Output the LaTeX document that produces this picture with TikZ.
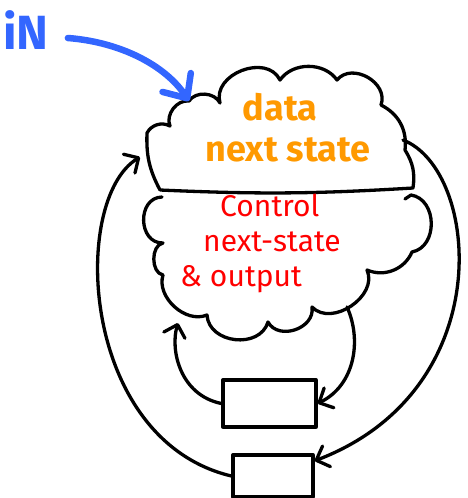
\documentclass[tikz,border=0pt]{standalone}
\usepackage{fontspec}
\setmainfont{Fira Sans}
\usepackage{tikz}
\usetikzlibrary{arrows.meta}
\definecolor{inblue}{HTML}{3366FF}
\definecolor{dataorange}{HTML}{FF9900}
\definecolor{ctlred}{HTML}{FF0000}
\tikzset{
  sketch/.style={black,line width=3.3pt,line cap=round,line join=round},
  puff/.style={bend left=#1},
  puff/.default=60,
  backarc/.style={sketch,-{Straight Barb[length=11pt,width=22pt,round]}},
  reg/.style={sketch,draw,rectangle,inner sep=0pt},
  inarrow/.style={inblue,line width=6.5pt,line cap=round,-{Straight Barb[length=19pt,width=34pt,round]}}
}

\begin{document}
\begin{tikzpicture}[x=1pt,y=-1pt]
\useasboundingbox (0,0) rectangle (467,498);
% data next-state cloud
\draw[sketch] (160,190) to[puff=15] (147,133) to[puff=45] (170,126)
   to[puff=60] (189,101) to[puff=60] (220,103) to[puff=85,looseness=1.2] (280,80)
   to[puff=55] (337,80) to[puff=80,looseness=1.2] (381,105) to[puff=35] (405,150)
   to[puff=20] (413,188) to[bend left=3] (160,190);
% control cloud (shares the line above)
\draw[sketch] (405,199) -- (411,195) to[puff=80,looseness=1.2] (412,252)
   to[puff=45] (367,270) to[puff=80,looseness=1.1] (312,307)
   to[puff=80,looseness=1.2] (268,322) to[puff=80,looseness=1.2] (207,315)
   to[puff=65] (163,275) to[puff=80] (163,243) to[puff=90,looseness=1.4] (162,197);
\coordinate (dataIn) at (189,101);
\coordinate (dataOut) at (403,140);
\coordinate (dataFb) at (140,157);
\coordinate (ctlOut) at (347,307);
\coordinate (ctlIn) at (178,323);

\node [text=dataorange,font=\bfseries\fontsize{36}{41}\selectfont,align=center] (dataLbl) at (288,128) {data\hspace*{16pt}\\next state};
\node [text=ctlred,font=\fontsize{30}{35}\selectfont,align=left,anchor=north west,inner sep=0pt] (ctlLbl) at (180,194)
   {\hspace*{40pt}Control\\\hspace*{23pt}next-state\\\& output};
\node [text=inblue,font=\bfseries\fontsize{48}{50}\selectfont,inner sep=0pt] (inLbl) at (26,30) {iN};

\node [reg,minimum width=93pt,minimum height=47pt] (ctlReg) at (269.5,403.5) {};
\node [reg,minimum width=80pt,minimum height=42pt] (dataReg) at (273,476) {};

\draw[inarrow] ([xshift=19pt,yshift=-8pt]inLbl.east) .. controls (120,42) and (165,65) .. (dataIn);
\draw[backarc] (ctlOut) .. controls (362,340) and (355,385) .. (ctlReg.east);
\draw[backarc] (ctlReg.west) .. controls (180,395) and (170,350) .. (ctlIn);
\draw[backarc] (dataOut) .. controls (480,170) and (500,390) .. (dataReg.20);
\draw[backarc] (dataReg.west) .. controls (80,440) and (70,200) .. (dataFb);
\end{tikzpicture}
\end{document}
